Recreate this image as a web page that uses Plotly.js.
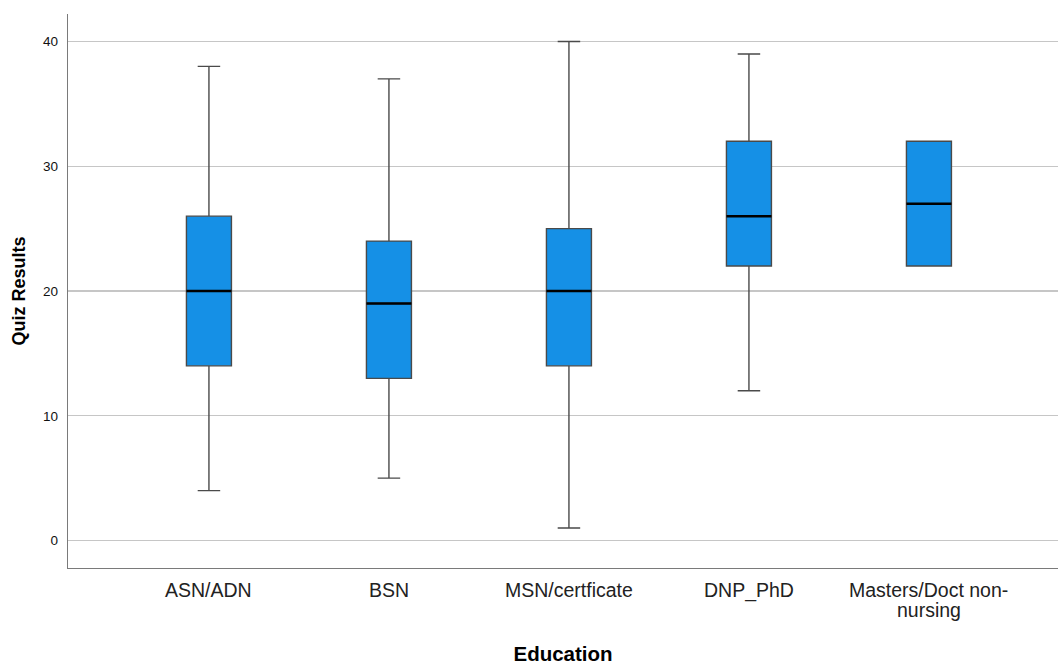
<!DOCTYPE html>
<html>
<head>
<meta charset="utf-8">
<script src="https://cdn.plot.ly/plotly-3.0.1.min.js"></script>
<style>html,body{margin:0;padding:0;background:#fff;}#chart{width:1058px;height:667px;}</style>
</head>
<body>
<div id="chart"></div>
<script>
const categories = ["ASN/ADN", "BSN", "MSN/certficate", "DNP_PhD", "Masters/Doct non-<br>nursing"];
const minimum = [4, 5, 1, 12, 22];
const q1 = [14, 13, 14, 22, 22];
const median = [20, 19, 20, 26, 27];
const q3 = [26, 24, 25, 32, 32];
const maximum = [38, 37, 40, 39, 32];
const yTicks = [0, 10, 20, 30, 40];

const boxWidth = 0.25;
const trace = {
  type: 'box',
  x: categories,
  q1: q1,
  median: median,
  q3: q3,
  lowerfence: minimum,
  upperfence: maximum,
  width: boxWidth,
  whiskerwidth: 0.5,
  fillcolor: '#1590E6',
  line: {color: '#4a4a4a', width: 1.4},
  boxpoints: false,
  hoverinfo: 'skip',
  showlegend: false
};

const shapes = median.map((m, i) => ({
  type: 'line', xref: 'x', yref: 'y',
  x0: i - boxWidth / 2, x1: i + boxWidth / 2, y0: m, y1: m,
  line: {color: '#000', width: 2.5}, layer: 'above'
}));

// category labels drawn as annotations so the two-line label can use tighter line spacing
const annotations = [];
categories.forEach((c, i) => {
  c.split('<br>').forEach((line, k) => {
    annotations.push({
      xref: 'x', yref: 'paper', x: i, y: 0,
      xanchor: 'center', yanchor: 'top',
      yshift: -9 - 20 * k,
      text: line, showarrow: false,
      font: {size: 19.5, color: '#222'}
    });
  });
});

const layout = {
  width: 1058, height: 667,
  margin: {l: 68, r: 0, t: 14, b: 99},
  paper_bgcolor: '#fff', plot_bgcolor: '#fff',
  font: {family: 'Liberation Sans, Arial, sans-serif', color: '#000'},
  xaxis: {
    type: 'category',
    range: [-0.783, 4.717],
    showgrid: false, zeroline: false,
    showline: true, linecolor: '#7a7a7a', linewidth: 1.3,
    ticks: '', showticklabels: false,
    title: {text: '<b>Education</b>', font: {size: 20.5, color: '#000'}, standoff: 78}
  },
  yaxis: {
    range: [-2.2, 42.2],
    tickvals: yTicks, ticktext: yTicks.map(String),
    showgrid: true, gridcolor: '#c6c6c6', gridwidth: 1.3,
    zeroline: false,
    showline: true, linecolor: '#7a7a7a', linewidth: 1.3,
    ticks: '', ticklabelstandoff: 6, tickfont: {size: 13.5, color: '#111'},
    title: {text: '<b>Quiz Results</b>', font: {size: 18, color: '#000'}, standoff: 12}
  },
  shapes: shapes,
  annotations: annotations
};

Plotly.newPlot('chart', [trace], layout, {displayModeBar: false, staticPlot: true});
</script>
</body>
</html>
